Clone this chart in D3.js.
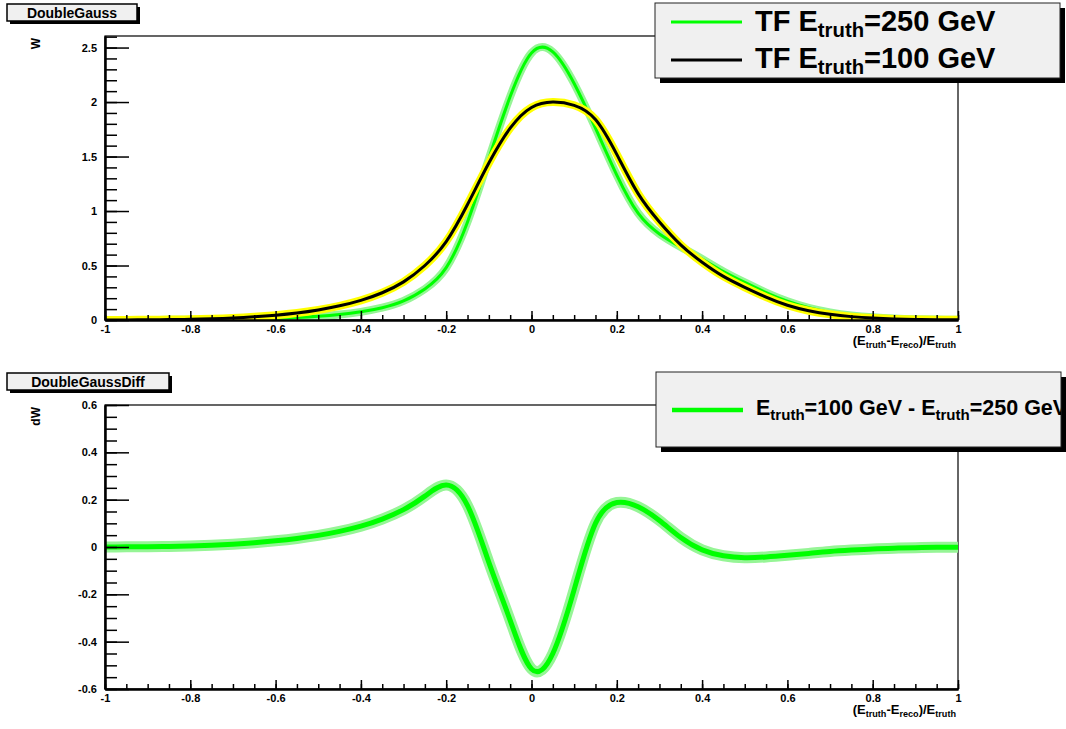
<!DOCTYPE html>
<html>
<head>
<meta charset="utf-8">
<script src="https://cdn.jsdelivr.net/npm/d3@7"></script>
<style>
  body { margin: 0; background: #fff; }
  text { font-family: "Liberation Sans", Arial, Helvetica, sans-serif; font-weight: bold; fill: #000; }
</style>
</head>
<body>
<svg id="canvas" width="1066" height="729"></svg>
<script>
// x = (E_truth - E_reco)/E_truth
const xVals = [-1, -0.95, -0.9, -0.85, -0.8, -0.75, -0.7, -0.65, -0.6, -0.55, -0.5, -0.45, -0.4, -0.35, -0.3, -0.25, -0.2, -0.15, -0.1, -0.05,
  0, 0.05, 0.1, 0.15, 0.2, 0.25, 0.3, 0.35, 0.4, 0.45, 0.5, 0.55, 0.6, 0.65, 0.7, 0.75, 0.8, 0.85, 0.9, 0.95, 1];

// TF at E_truth = 250 GeV (green)
const tf250 = [0.0002, 0.0004, 0.0007, 0.0012, 0.002, 0.0035, 0.0058, 0.0095, 0.015, 0.023, 0.034, 0.05, 0.075, 0.113, 0.175, 0.285, 0.48, 0.9, 1.48, 2.05,
  2.45, 2.46, 2.17, 1.76, 1.33, 0.98, 0.79, 0.67, 0.56, 0.445, 0.345, 0.252, 0.172, 0.112, 0.07, 0.042, 0.025, 0.014, 0.0075, 0.004, 0.002];

// TF at E_truth = 100 GeV (black)
const tf100 = [0.0005, 0.001, 0.002, 0.0037, 0.0065, 0.011, 0.018, 0.029, 0.044, 0.064, 0.092, 0.13, 0.18, 0.25, 0.35, 0.5, 0.72, 1.06, 1.44, 1.76,
  1.95, 2.0, 1.97, 1.84, 1.52, 1.16, 0.9, 0.69, 0.53, 0.4, 0.3, 0.21, 0.135, 0.085, 0.052, 0.031, 0.018, 0.01, 0.0055, 0.003, 0.0015];

// difference 100 GeV - 250 GeV
const diffVals = [0.0003, 0.0006, 0.0013, 0.0025, 0.0045, 0.0075, 0.012, 0.018, 0.026, 0.036, 0.049, 0.066, 0.088, 0.118, 0.158, 0.215, 0.262, 0.175, -0.065, -0.31,
  -0.515, -0.45, -0.18, 0.1, 0.188, 0.17, 0.112, 0.04, -0.012, -0.037, -0.045, -0.042, -0.035, -0.027, -0.019, -0.013, -0.008, -0.005, -0.003, -0.0015, -0.0007];

const xTicks = [-1, -0.8, -0.6, -0.4, -0.2, 0, 0.2, 0.4, 0.6, 0.8, 1];
const xTickLabels = ["-1", "-0.8", "-0.6", "-0.4", "-0.2", "0", "0.2", "0.4", "0.6", "0.8", "1"];
const topYTicks = [0, 0.5, 1, 1.5, 2, 2.5];
const topYLabels = ["0", "0.5", "1", "1.5", "2", "2.5"];
const botYTicks = [-0.6, -0.4, -0.2, 0, 0.2, 0.4, 0.6];
const botYLabels = ["-0.6", "-0.4", "-0.2", "0", "0.2", "0.4", "0.6"];

const topLegend = ["TF E_{truth}=250 GeV", "TF E_{truth}=100 GeV"];
const botLegend = ["E_{truth}=100 GeV - E_{truth}=250 GeV"];
const xTitle = "(E_{truth}-E_{reco})/E_{truth}";

const svg = d3.select("#canvas");
const x = d3.scaleLinear().domain([-1, 1]).range([105, 958]);

// write "a_{b}c" style text with subscripts
function rich(sel, str, size) {
  const parts = str.split(/(_\{[^}]*\})/).filter(s => s.length);
  let down = false;
  parts.forEach(p => {
    if (p.startsWith("_{")) {
      sel.append("tspan").attr("font-size", size * 0.7).attr("dy", size * 0.22).text(p.slice(2, -1));
      down = true;
    } else {
      sel.append("tspan").attr("font-size", size).attr("dy", down ? -size * 0.22 : 0).text(p);
      down = false;
    }
  });
  return sel;
}

function drawPad(o) {
  const g = svg.append("g");
  const y = d3.scaleLinear().domain(o.yDomain).range([o.bottom, o.top]);
  const clipId = "clip" + o.id;
  g.append("clipPath").attr("id", clipId)
    .append("rect").attr("x", 105).attr("y", o.top).attr("width", 853).attr("height", o.bottom - o.top);

  // frame
  g.append("rect").attr("x", 105).attr("y", o.top).attr("width", 853).attr("height", o.bottom - o.top)
    .attr("fill", "none").attr("stroke", "#000").attr("stroke-width", 1.2);

  // curves
  const line = d3.line()
    .x((d, i) => x(xVals[i]))
    .y(d => y(d))
    .curve(d3.curveNatural);
  const cg = g.append("g").attr("clip-path", `url(#${clipId})`);
  o.curves.forEach(c => {
    cg.append("path").attr("d", line(c.data)).attr("fill", "none")
      .attr("stroke", c.band).attr("stroke-width", c.bandW).attr("stroke-linejoin", "round");
    cg.append("path").attr("d", line(c.data)).attr("fill", "none")
      .attr("stroke", c.color).attr("stroke-width", c.w).attr("stroke-linejoin", "round");
  });

  // y axis
  const ya = g.append("g").attr("transform", "translate(105,0)");
  ya.append("g").call(d3.axisLeft(y).tickValues(o.yMinor).tickSize(-12).tickFormat("").tickSizeOuter(0));
  ya.append("g").call(d3.axisLeft(y).tickValues(o.yTicks).tickSize(-24).tickPadding(8)
    .tickFormat((d, i) => o.yLabels[i]).tickSizeOuter(0));

  // x axis
  const xa = g.append("g").attr("transform", `translate(0,${o.bottom})`);
  xa.append("g").call(d3.axisBottom(x).tickValues(d3.range(-1, 1.001, 0.05)).tickSize(-5).tickFormat("").tickSizeOuter(0));
  xa.append("g").call(d3.axisBottom(x).tickValues(xTicks).tickSize(-9).tickPadding(5)
    .tickFormat((d, i) => xTickLabels[i]).tickSizeOuter(0));

  g.selectAll(".domain").attr("stroke-width", 2);
  g.selectAll(".tick line").attr("stroke-width", 1.5);
  g.selectAll(".tick text").style("font-size", "11px");

  // axis titles
  rich(g.append("text").attr("text-anchor", "end").attr("x", 956).attr("y", o.bottom + 25), xTitle, 13);
  g.append("text").attr("transform", `translate(40,${o.top + 2}) rotate(-90)`)
    .attr("text-anchor", "end").style("font-size", "12px").text(o.yTitle);

  // title box
  const tb = o.titleBox;
  g.append("rect").attr("x", tb.x + 3).attr("y", tb.y + 3).attr("width", tb.w).attr("height", tb.h).attr("fill", "#000");
  g.append("rect").attr("x", tb.x).attr("y", tb.y).attr("width", tb.w).attr("height", tb.h)
    .attr("fill", "#f0f0f0").attr("stroke", "#000").attr("stroke-width", 1.5);
  g.append("text").attr("x", tb.x + tb.w / 2).attr("y", tb.y + tb.h / 2 + 5).attr("text-anchor", "middle")
    .style("font-size", "14px").text(tb.text);

  // legend
  const lg = o.legend;
  g.append("rect").attr("x", lg.x + 5).attr("y", lg.y + 5).attr("width", lg.w).attr("height", lg.h).attr("fill", "#000");
  g.append("rect").attr("x", lg.x).attr("y", lg.y).attr("width", lg.w).attr("height", lg.h)
    .attr("fill", "#f0f0f0").attr("stroke", "#222").attr("stroke-width", 1);
  const lclip = "lclip" + o.id;
  g.append("clipPath").attr("id", lclip)
    .append("rect").attr("x", lg.x).attr("y", lg.y).attr("width", lg.w).attr("height", lg.h);
  const lt = g.append("g").attr("clip-path", `url(#${lclip})`);
  lg.entries.forEach(e => {
    lt.append("line").attr("x1", lg.x + 16).attr("x2", lg.x + 87)
      .attr("y1", e.ly).attr("y2", e.ly).attr("stroke", e.color).attr("stroke-width", e.w);
    rich(lt.append("text").attr("x", lg.x + 100).attr("y", e.ty), e.label, lg.size);
  });
}

drawPad({
  id: "top", top: 36, bottom: 320, yDomain: [0, 2.606],
  yTicks: topYTicks, yLabels: topYLabels, yMinor: d3.range(0, 2.61, 0.1), yTitle: "W",
  curves: [
    { data: tf250, color: "#00ff00", w: 3, band: "#96f596", bandW: 8 },
    { data: tf100, color: "#000", w: 3, band: "#ffff00", bandW: 8 }
  ],
  titleBox: { x: 7, y: 4, w: 130, h: 17, text: "DoubleGauss" },
  legend: {
    x: 655, y: 3, w: 405, h: 75, size: 29,
    entries: [
      { label: topLegend[0], color: "#00ff00", w: 3, ly: 22, ty: 31 },
      { label: topLegend[1], color: "#000", w: 3, ly: 60, ty: 68 }
    ]
  }
});

drawPad({
  id: "bot", top: 405, bottom: 689, yDomain: [-0.6, 0.6],
  yTicks: botYTicks, yLabels: botYLabels, yMinor: d3.range(-0.6, 0.601, 0.05), yTitle: "dW",
  curves: [
    { data: diffVals, color: "#00ff00", w: 5, band: "#96f596", bandW: 11 }
  ],
  titleBox: { x: 7, y: 373, w: 162, h: 17, text: "DoubleGaussDiff" },
  legend: {
    x: 656, y: 372, w: 405, h: 75, size: 21.5,
    entries: [
      { label: botLegend[0], color: "#00ff00", w: 4.5, ly: 410, ty: 415 }
    ]
  }
});
</script>
</body>
</html>
